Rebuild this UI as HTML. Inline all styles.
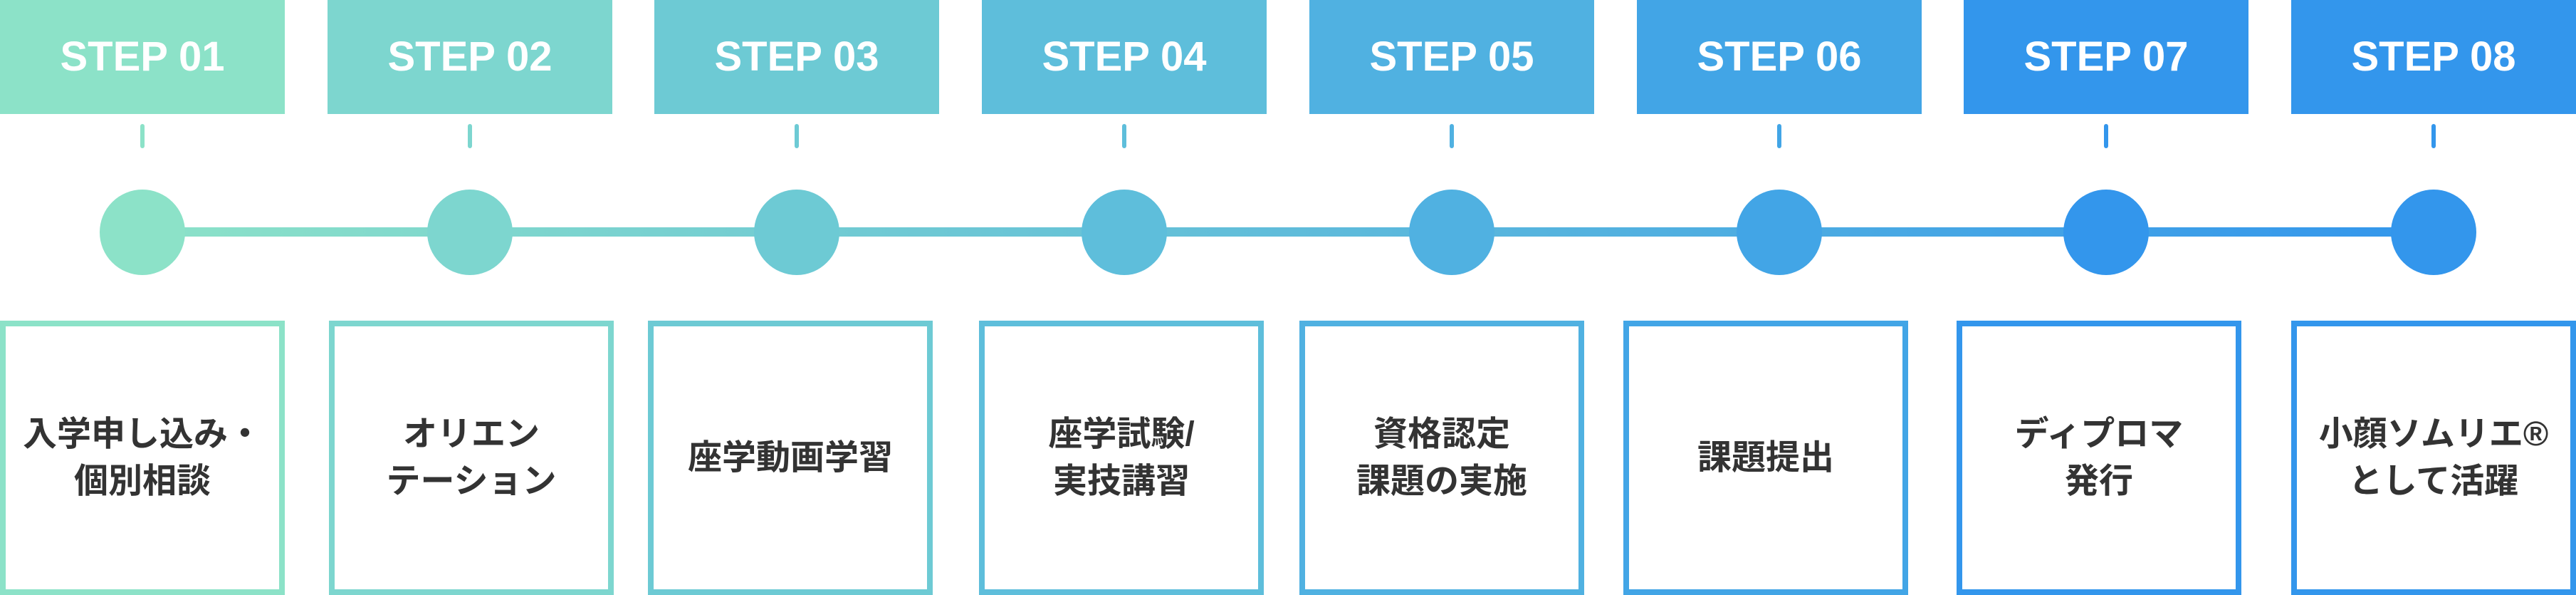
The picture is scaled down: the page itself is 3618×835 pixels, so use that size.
<!DOCTYPE html>
<html><head><meta charset="utf-8"><style>
html,body{margin:0;padding:0;background:#fff;}
body{width:3618px;height:835px;position:relative;overflow:hidden;font-family:"Liberation Sans","Noto Sans CJK JP",sans-serif;}
.h{position:absolute;top:0;height:160px;width:400px;color:#fff;font-weight:bold;font-size:58px;text-align:center;line-height:160px;}
.t{position:absolute;top:174px;height:34px;width:6px;border-radius:3px;}
.c{position:absolute;top:266px;width:120px;height:120px;border-radius:50%;}
.b{position:absolute;top:450px;height:385px;width:400px;box-sizing:border-box;border:8px solid;display:flex;align-items:center;justify-content:center;text-align:center;font-weight:bold;font-size:48px;line-height:66px;color:#333;}
.line{position:absolute;top:319px;height:13px;left:200px;width:3218px;background:linear-gradient(90deg,#8ce2c8,#3396ec);}
</style></head><body>
<div class="line"></div>
<div class="h" style="left:0;background:#8ce2c8">STEP 01</div>
<div class="h" style="left:460px;background:#7dd6cf">STEP 02</div>
<div class="h" style="left:919px;background:#6dcad4">STEP 03</div>
<div class="h" style="left:1379px;background:#5ebedb">STEP 04</div>
<div class="h" style="left:1839px;background:#50b1e1">STEP 05</div>
<div class="h" style="left:2299px;background:#42a5e6">STEP 06</div>
<div class="h" style="left:2758px;background:#3396ec">STEP 07</div>
<div class="h" style="left:3218px;background:#3396ec">STEP 08</div>

<div class="t" style="left:197px;background:#8ce2c8"></div>
<div class="t" style="left:657px;background:#7dd6cf"></div>
<div class="t" style="left:1116px;background:#6dcad4"></div>
<div class="t" style="left:1576px;background:#5ebedb"></div>
<div class="t" style="left:2036px;background:#50b1e1"></div>
<div class="t" style="left:2496px;background:#42a5e6"></div>
<div class="t" style="left:2955px;background:#3396ec"></div>
<div class="t" style="left:3415px;background:#3396ec"></div>

<div class="c" style="left:140px;background:#8ce2c8"></div>
<div class="c" style="left:600px;background:#7dd6cf"></div>
<div class="c" style="left:1059px;background:#6dcad4"></div>
<div class="c" style="left:1519px;background:#5ebedb"></div>
<div class="c" style="left:1979px;background:#50b1e1"></div>
<div class="c" style="left:2439px;background:#42a5e6"></div>
<div class="c" style="left:2898px;background:#3396ec"></div>
<div class="c" style="left:3358px;background:#3396ec"></div>

<div class="b" style="left:0;border-color:#8ce2c8">入学申し込み・<br>個別相談</div>
<div class="b" style="left:462px;border-color:#7dd6cf">オリエン<br>テーション</div>
<div class="b" style="left:910px;border-color:#6dcad4">座学動画学習</div>
<div class="b" style="left:1375px;border-color:#5ebedb">座学試験/<br>実技講習</div>
<div class="b" style="left:1825px;border-color:#50b1e1">資格認定<br>課題の実施</div>
<div class="b" style="left:2280px;border-color:#42a5e6">課題提出</div>
<div class="b" style="left:2748px;border-color:#3396ec">ディプロマ<br>発行</div>
<div class="b" style="left:3218px;border-color:#3396ec">小顔ソムリエ®<br>として活躍</div>
</body></html>
